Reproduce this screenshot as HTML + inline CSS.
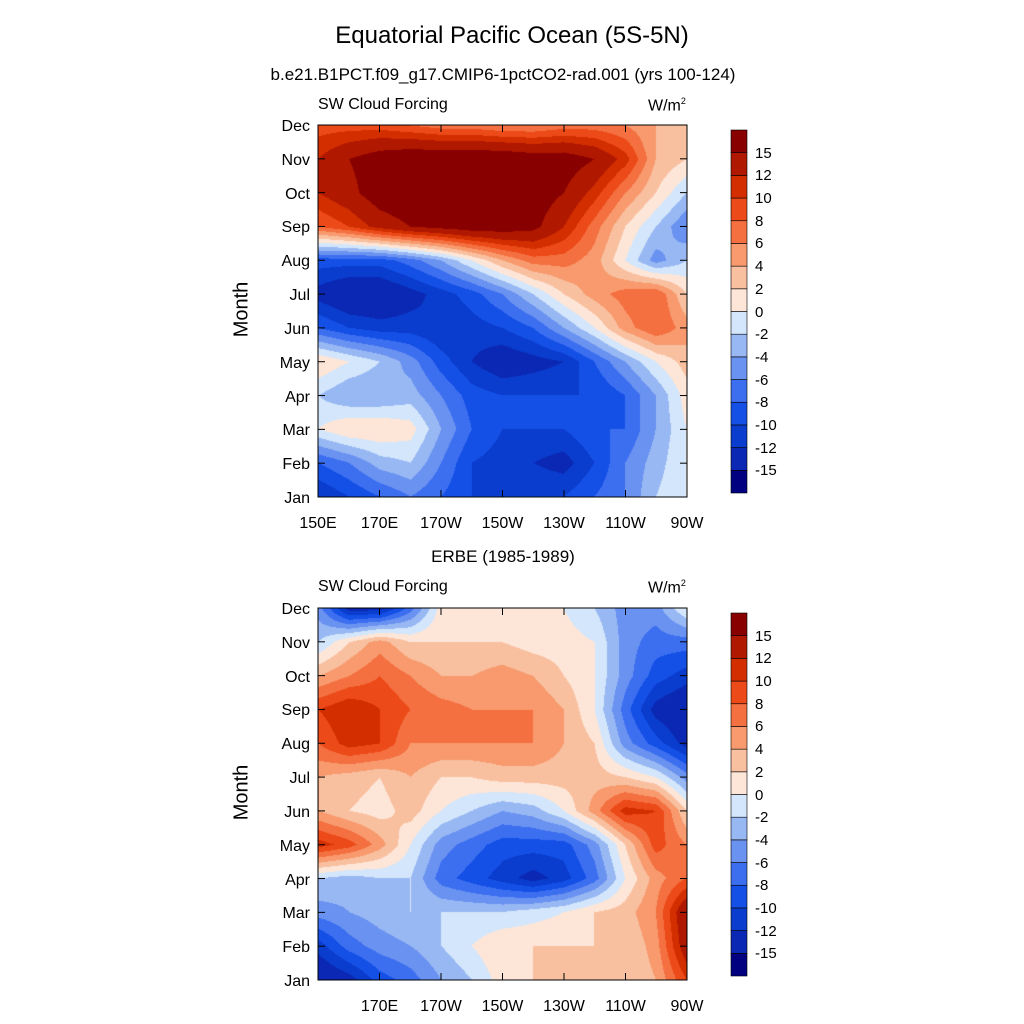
<!DOCTYPE html>
<html><head><meta charset="utf-8"><style>
body{margin:0;background:#fff;width:1024px;height:1024px;position:relative;overflow:hidden;font-family:"Liberation Sans",sans-serif;}
.t{position:absolute;white-space:nowrap;color:#000;}
canvas,svg{position:absolute;left:0;top:0;}
</style></head><body>
<canvas id="cv" width="1024" height="1024"></canvas>
<svg id="sv" width="1024" height="1024"></svg>
<div class="t" style="left:0;width:1024px;text-align:center;top:22px;font-size:24px;">Equatorial Pacific Ocean (5S-5N)</div>
<div class="t" style="left:0;width:1006px;text-align:center;top:65px;font-size:17px;">b.e21.B1PCT.f09_g17.CMIP6-1pctCO2-rad.001 (yrs 100-124)</div>
<div class="t" style="left:0;width:1006px;text-align:center;top:547px;font-size:17px;">ERBE (1985-1989)</div>
<div class="t" style="left:318px;top:96px;font-size:16px;">SW Cloud Forcing</div>
<div class="t" style="left:648px;top:96px;font-size:16px;">W/m<sup style="font-size:9px">2</sup></div>
<div class="t" style="left:318px;top:578px;font-size:16px;">SW Cloud Forcing</div>
<div class="t" style="left:648px;top:578px;font-size:16px;">W/m<sup style="font-size:9px">2</sup></div>
<div class="t" style="left:212px;top:298px;font-size:20px;transform:rotate(-90deg);width:60px;text-align:center;">Month</div>
<div class="t" style="left:212px;top:781px;font-size:20px;transform:rotate(-90deg);width:60px;text-align:center;">Month</div>
<div id="lab"></div>
<script>
const months=["Jan","Feb","Mar","Apr","May","Jun","Jul","Aug","Sep","Oct","Nov","Dec"];
const lons=[150,160,170,180,190,200,210,220,230,240,250,260,270];
const xTicksTop=["150E","170E","170W","150W","130W","110W","90W"];
const xTicksBot=["","170E","170W","150W","130W","110W","90W"];
const xTickLons=[150,170,190,210,230,250,270];
const levels=[-15,-12,-10,-8,-6,-4,-2,0,2,4,6,8,10,12,15];
const levelLabels=["15","12","10","8","6","4","2","0","-2","-4","-6","-8","-10","-12","-15"];
const colors=["#000080","#0a28b4","#0a3ccd","#1450e6","#3c6ef0","#6a92f0","#98b8f4","#d4e6fb","#fde6d8","#f9c0a0","#f89a6e","#f47040","#ec4a18","#d22e00","#b01800","#880000"];
const modelData=[
[-12,-10,-8,-6,-8,-10,-10,-10,-10,-8,-6,-2,0],
[-8,-6,-3,-2,-6,-10,-11,-12,-13,-10,-6,-3,0],
[0,2,2,1,-4,-8,-10,-10,-10,-8,-8,-4,0],
[-2,-4,-4,-3,-6,-9,-10,-10,-10,-10,-8,-4,1],
[2,0,-2,-5,-9,-12,-14,-13,-12,-8,-4,0,3],
[-8,-10,-11,-11,-12,-11,-10,-8,-4,0,5,8,5],
[-13,-15,-15,-13,-11,-9,-6,-2,2,5,7,8,2],
[-9,-9,-9,-7,-4,0,4,7,7,5,0,-5,-2],
[8,10,13,15,16,17,17,16,12,7,2,-2,-6],
[12,14,17,18,18,18,18,17,15,11,6,2,-2],
[12,15,17,18,18,18,18,17,17,15,11,4,2],
[9,9,9,8,7,7,6,6,7,7,6,4,3]];
const obsData=[
[-15,-13,-9,-7,-4,-2,1,2,2,2,2,4,10],
[-11,-7,-5,-4,-2,0,2,2,2,2,2,5,14],
[-5,-4,-3,-2,-2,-2,-2,-1,0,2,3,6,15],
[-2,-3,-2,-2,-7,-9,-11,-13,-11,-7,0,5,8],
[11,9,5,0,-5,-7,-9,-9,-9,-5,2,9,6],
[4,2,1,3,0,-2,-4,-3,0,5,11,10,2],
[4,3,2,4,2,2,3,3,3,3,2,0,-5],
[8,11,10,6,6,6,6,6,4,2,-5,-9,-13],
[10,12,10,8,7,6,6,6,4,0,-7,-13,-15],
[4,6,8,6,4,4,5,4,2,0,-5,-9,-11],
[-2,2,5,2,2,2,2,1,1,0,-5,-7,-7],
[-5,-13,-13,-7,1,1,0,0,0,-2,-5,-5,0]];

const X0=318,X1=687,W=X1-X0;
const panels=[{y0:125,y1:497,data:modelData,xl:xTicksTop,name:"top"},{y0:608,y1:980,data:obsData,xl:xTicksBot,name:"bottom"}];
const xs=l=>X0+(l-lons[0])/(lons[lons.length-1]-lons[0])*W;
function colorIdx(v){let i=0;for(const b of levels){if(v>=b)i++;}return i;}
const ctx=document.getElementById('cv').getContext('2d');
const rgb=colors.map(c=>[parseInt(c.substr(1,2),16),parseInt(c.substr(3,2),16),parseInt(c.substr(5,2),16)]);
const sv=document.getElementById('sv');const NS="http://www.w3.org/2000/svg";
function line(x1,y1,x2,y2,nm){const l=document.createElementNS(NS,'line');l.setAttribute('x1',x1);l.setAttribute('y1',y1);l.setAttribute('x2',x2);l.setAttribute('y2',y2);l.setAttribute('stroke','#000');l.setAttribute('stroke-width','1');


sv.appendChild(l);}
const lab=document.getElementById('lab');
function text(s,x,y,align,nm,fs){const d=document.createElement('div');d.className='t';d.textContent=s;d.style.fontSize=(fs||16)+'px';d.style.top=(y-9)+'px';
if(align==='c'){d.style.left=(x-40)+'px';d.style.width='80px';d.style.textAlign='center';}
else if(align==='r'){d.style.left=(x-80)+'px';d.style.width='80px';d.style.textAlign='right';}
else d.style.left=x+'px';


lab.appendChild(d);}
panels.forEach(p=>{
  const H=p.y1-p.y0;const img=ctx.createImageData(W,H);
  const nr=p.data.length,nc=lons.length;
  for(let py=0;py<H;py++){
    const fy=(1-py/(H-1))*(nr-1);const r0=Math.min(Math.floor(fy),nr-2);const ty=fy-r0;
    for(let px=0;px<W;px++){
      const fx=px/(W-1)*(nc-1);const c0=Math.min(Math.floor(fx),nc-2);const tx=fx-c0;
      const d=p.data;
      const v=(d[r0][c0]*(1-tx)+d[r0][c0+1]*tx)*(1-ty)+(d[r0+1][c0]*(1-tx)+d[r0+1][c0+1]*tx)*ty;
      const c=rgb[colorIdx(v)];const k=(py*W+px)*4;
      img.data[k]=c[0];img.data[k+1]=c[1];img.data[k+2]=c[2];img.data[k+3]=255;
    }}
  ctx.putImageData(img,X0,p.y0);
  const r=document.createElementNS(NS,'rect');r.setAttribute('x',X0);r.setAttribute('y',p.y0);r.setAttribute('width',W);r.setAttribute('height',H);r.setAttribute('fill','none');r.setAttribute('stroke','#000');
  
  
  sv.appendChild(r);
  months.forEach((m,i)=>{const y=p.y1-i/(months.length-1)*H;
    line(X0,y,X0+7,y,p.name+'-y-tick');line(X1-7,y,X1,y,p.name+'-y-tick-right');
    text(m,X0-8,y+2,'r',p.name+'-y-tick-label');});
  xTickLons.forEach((l,i)=>{const x=xs(l);
    line(x,p.y1,x,p.y1-7,p.name+'-x-tick');line(x,p.y0,x,p.y0+7,p.name+'-x-tick-top');
    if(p.xl[i])text(p.xl[i],x,p.y1+27,'c',p.name+'-x-tick-label');});
  const cbx=731,cbw=16,cby0=p.y0+5,cby1=p.y1-4;const bh=(cby1-cby0)/colors.length;
  for(let i=0;i<colors.length;i++){const rr=document.createElementNS(NS,'rect');
    rr.setAttribute('x',cbx);rr.setAttribute('y',cby1-(i+1)*bh);rr.setAttribute('width',cbw);rr.setAttribute('height',bh);rr.setAttribute('fill',colors[i]);rr.setAttribute('stroke','#000');rr.setAttribute('stroke-width','0.6');
    
    
    sv.appendChild(rr);}
  levelLabels.forEach((s,i)=>{text(s,755,cby0+(i+1)*bh+1,'l',p.name+'-colorbar-label',15);});
});
</script>
</body></html>
